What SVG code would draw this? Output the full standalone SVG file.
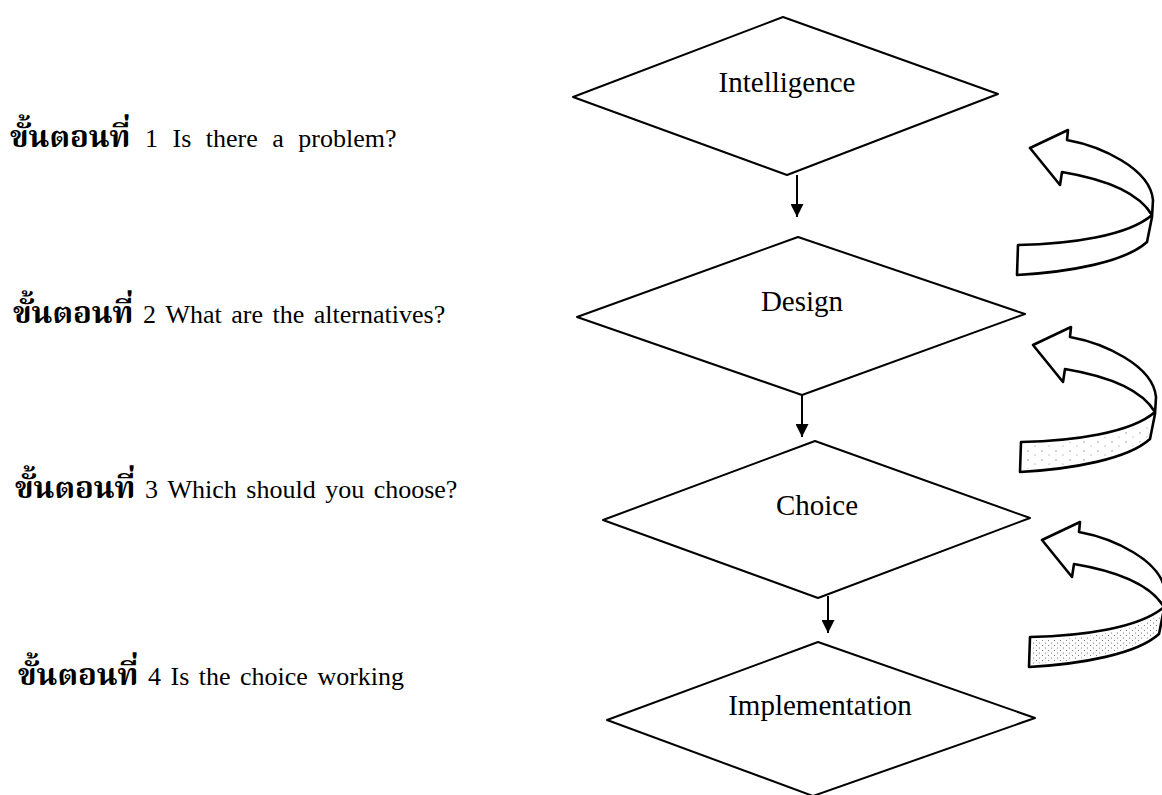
<svg xmlns="http://www.w3.org/2000/svg" width="1162" height="795" viewBox="0 0 1162 795">
  <style>
    .shape { fill: #ffffff; stroke: #000000; stroke-width: 2; stroke-linejoin: round; }
    .lbl { font-family: "Liberation Serif", "Times New Roman", serif; font-size: 29px; fill: #000000; text-anchor: middle; }
    .step { font-family: "Liberation Serif", "Times New Roman", serif; font-size: 26px; fill: #000000; word-spacing: 3px; }
    .thai { font-family: "Noto Serif Thai", "Noto Sans Thai Looped", "Loma", "Garuda", "Norasi", "Noto Sans Thai", "Noto Sans", sans-serif; font-weight: bold; font-size: 31px; word-spacing: 0; }
    .conn { stroke: #000000; stroke-width: 2; fill: none; }
    .loop { fill: #ffffff; stroke: #000000; stroke-width: 2.6; stroke-linejoin: round; }
  </style>
  <defs>
    <marker id="arrowhead" viewBox="0 0 10 10" refX="10" refY="5" markerWidth="16" markerHeight="13" markerUnits="userSpaceOnUse" orient="auto">
      <path d="M0,0 L10,5 L0,10 Z" fill="#000000"/>
    </marker>
    <!-- curved feedback arrow: ribbon turning up and pointing back left -->
    <path id="loopArrow" d="M1030,148 L1068,130 L1067,140 C1100,146 1150,168 1153,200 L1152,217 L1147,242 C1125,262 1070,272 1017,275 L1018,245 C1070,244 1128,236 1152,215 C1140,195 1110,180 1062,172 L1060,185 Z"/>
    <path id="loopBand" d="M1020,248 C1070,247 1128,239 1150,220 L1145,240 C1123,259 1070,269 1020,272 Z"/>
    <pattern id="dotsSparse" width="14" height="9" patternUnits="userSpaceOnUse">
      <circle cx="3" cy="2" r="0.7" fill="#000000"/>
      <circle cx="10" cy="6" r="0.6" fill="#000000"/>
    </pattern>
    <pattern id="dotsDense" width="6" height="5" patternUnits="userSpaceOnUse">
      <circle cx="1.5" cy="1" r="0.6" fill="#000000"/>
      <circle cx="4.5" cy="3.5" r="0.6" fill="#000000"/>
    </pattern>
  </defs>

  <!-- step descriptions -->
  <g id="step1">
    <text class="step" x="10" y="147" style="word-spacing:8px"><tspan class="thai">ขั้นตอนที่</tspan> 1 Is there a problem?</text>
  </g>
  <g id="step2">
    <text class="step" x="13" y="323"><tspan class="thai">ขั้นตอนที่</tspan> 2 What are the alternatives?</text>
  </g>
  <g id="step3">
    <text class="step" x="15" y="498"><tspan class="thai">ขั้นตอนที่</tspan> 3 Which should you choose?</text>
  </g>
  <g id="step4">
    <text class="step" x="18" y="685"><tspan class="thai">ขั้นตอนที่</tspan> 4 Is the choice working</text>
  </g>

  <!-- decision phases -->
  <g id="intelligence">
    <polygon class="shape" points="783,17 998,94 787,175 573,97"/>
    <text class="lbl" x="787" y="92">Intelligence</text>
  </g>
  <g id="design">
    <polygon class="shape" points="798,237 1025,314 802,395 577,317"/>
    <text class="lbl" x="802" y="311">Design</text>
  </g>
  <g id="choice">
    <polygon class="shape" points="815,441 1030,518 818,598 603,520"/>
    <text class="lbl" x="817" y="515">Choice</text>
  </g>
  <g id="implementation">
    <polygon class="shape" points="818,642 1035,718 813,796 607,720"/>
    <text class="lbl" x="820" y="715">Implementation</text>
  </g>

  <!-- connectors -->
  <g id="connectors">
    <line class="conn" x1="797" y1="175" x2="797" y2="217" marker-end="url(#arrowhead)"/>
    <line class="conn" x1="802" y1="395" x2="802" y2="437" marker-end="url(#arrowhead)"/>
    <line class="conn" x1="828" y1="596" x2="828" y2="633" marker-end="url(#arrowhead)"/>
  </g>

  <!-- feedback loops -->
  <g id="loop1">
    <use href="#loopArrow" class="loop"/>
  </g>
  <g id="loop2" transform="translate(3,197)">
    <use href="#loopArrow" class="loop"/>
    <use href="#loopBand" fill="url(#dotsSparse)" opacity="0.5"/>
  </g>
  <g id="loop3" transform="translate(12,392)">
    <use href="#loopArrow" class="loop"/>
    <use href="#loopBand" fill="url(#dotsDense)" opacity="0.6"/>
  </g>
</svg>
